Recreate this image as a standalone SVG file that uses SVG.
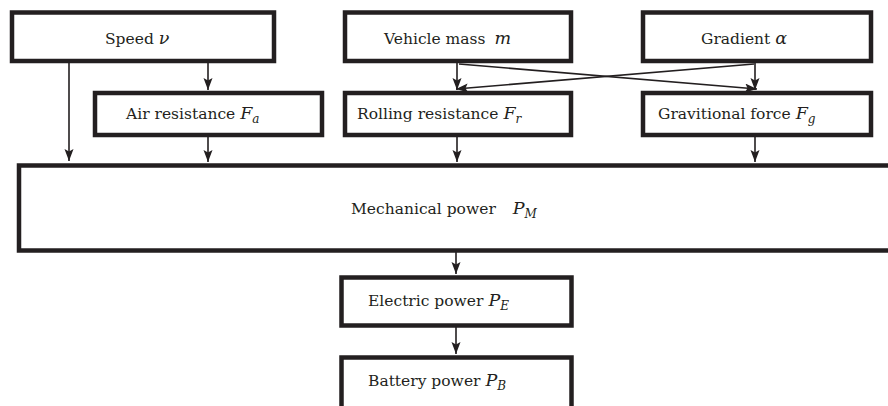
<svg xmlns="http://www.w3.org/2000/svg" width="888" height="406" viewBox="0 0 888 406">
<defs>
<style>
.box{fill:#fff;stroke:#231f20;stroke-width:4.5}
.con{fill:none;stroke:#231f20;stroke-width:1.6}
text{font-family:"DejaVu Serif","Liberation Serif",serif;font-size:15.5px;fill:#231f20}
.m{font-style:italic;font-size:17.5px}
.s{font-style:italic;font-size:12px}
</style>
<marker id="ah" markerUnits="userSpaceOnUse" markerWidth="14" markerHeight="10" refX="12" refY="4.5" orient="auto" viewBox="0 0 14 10">
<path d="M0,0 L12,4.5 L0,9 L2.5,4.5 z" fill="#231f20"/>
</marker>
</defs>
<rect width="888" height="406" fill="#fff"/>
<g id="connectors">
<line class="con" x1="69" y1="63" x2="69" y2="161" marker-end="url(#ah)"/>
<line class="con" x1="208" y1="63" x2="208" y2="90" marker-end="url(#ah)"/>
<line class="con" x1="208" y1="137" x2="208" y2="162" marker-end="url(#ah)"/>
<line class="con" x1="457" y1="63" x2="457" y2="90" marker-end="url(#ah)"/>
<line class="con" x1="457" y1="137" x2="457" y2="162" marker-end="url(#ah)"/>
<line class="con" x1="755" y1="63" x2="755" y2="90" marker-end="url(#ah)"/>
<line class="con" x1="755" y1="137" x2="755" y2="162" marker-end="url(#ah)"/>
<line class="con" x1="459" y1="64" x2="757" y2="89" marker-end="url(#ah)"/>
<line class="con" x1="754" y1="64" x2="456" y2="89" marker-end="url(#ah)"/>
<line class="con" x1="456" y1="252" x2="456" y2="274" marker-end="url(#ah)"/>
<line class="con" x1="456" y1="327" x2="456" y2="354" marker-end="url(#ah)"/>
</g>
<g id="speed">
<rect class="box" x="12" y="12.5" width="262" height="48.5"/>
<text x="105" y="44">Speed <tspan class="m">ν</tspan></text>
</g>
<g id="vehicle-mass">
<rect class="box" x="345" y="12.5" width="226" height="48.5"/>
<text x="384" y="44">Vehicle mass <tspan class="m" dx="4">m</tspan></text>
</g>
<g id="gradient">
<rect class="box" x="643" y="12.5" width="228" height="48.5"/>
<text x="701" y="44">Gradient <tspan class="m">α</tspan></text>
</g>
<g id="air-resistance">
<rect class="box" x="95" y="93" width="227" height="42"/>
<text x="126" y="119">Air resistance <tspan class="m">F</tspan><tspan class="s" dy="4">a</tspan></text>
</g>
<g id="rolling-resistance">
<rect class="box" x="345" y="93" width="226" height="42"/>
<text x="357" y="119">Rolling resistance <tspan class="m">F</tspan><tspan class="s" dy="4">r</tspan></text>
</g>
<g id="gravitional-force">
<rect class="box" x="643" y="93" width="228" height="42"/>
<text x="658" y="119">Gravitional force <tspan class="m">F</tspan><tspan class="s" dy="4">g</tspan></text>
</g>
<g id="mechanical-power">
<rect class="box" x="19" y="165.5" width="880" height="85"/>
<text x="351" y="214">Mechanical power <tspan class="m" dx="12">P</tspan><tspan class="s" dy="4">M</tspan></text>
</g>
<g id="electric-power">
<rect class="box" x="341.5" y="277.5" width="230" height="48"/>
<text x="368" y="306">Electric power <tspan class="m">P</tspan><tspan class="s" dy="4">E</tspan></text>
</g>
<g id="battery-power">
<rect class="box" x="341.5" y="357.5" width="230" height="60"/>
<text x="368" y="386">Battery power <tspan class="m">P</tspan><tspan class="s" dy="4">B</tspan></text>
</g>
</svg>
